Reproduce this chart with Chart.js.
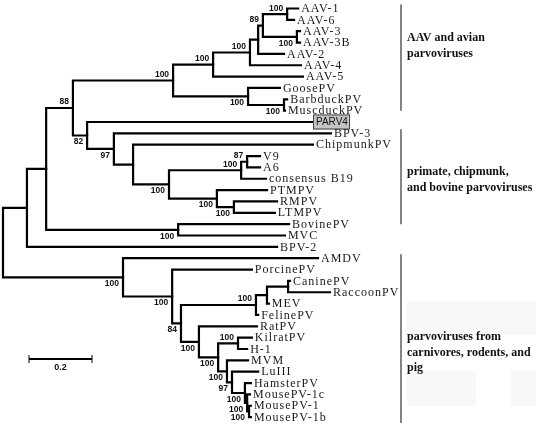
<!DOCTYPE html>
<html lang="en">
<head>
<meta charset="UTF-8">
<title>Parvovirus tree</title>
<style>
  html, body { margin: 0; padding: 0; background: #fff; }
  #wrap { width: 536px; height: 423px; position: relative; }
</style>
</head>
<body>
<div id="wrap"><canvas id="tree"></canvas></div>
<script src="https://cdn.jsdelivr.net/npm/chart.js@4/dist/chart.umd.min.js"></script>
<script>
// tips, top to bottom
var leafNames = ['AAV-1', 'AAV-6', 'AAV-3', 'AAV-3B', 'AAV-2', 'AAV-4', 'AAV-5',
  'GoosePV', 'BarbduckPV', 'MuscduckPV', 'PARV4', 'BPV-3', 'ChipmunkPV',
  'V9', 'A6', 'consensus B19', 'PTMPV', 'RMPV', 'LTMPV', 'BovinePV', 'MVC', 'BPV-2',
  'AMDV', 'PorcinePV', 'CaninePV', 'RaccoonPV', 'MEV', 'FelinePV', 'RatPV',
  'KilratPV', 'H-1', 'MVM', 'LuIII', 'HamsterPV', 'MousePV-1c', 'MousePV-1', 'MousePV-1b'];
// distance of each tip from the root
var leafDepth = [0.937, 0.924, 0.943, 0.943, 0.892, 0.946, 0.952,
  0.879, 0.902, 0.895, 0.981, 1.041, 0.984,
  0.816, 0.816, 0.835, 0.838, 0.870, 0.863, 0.908, 0.895, 0.870,
  1.000, 0.790, 0.911, 1.038, 0.844, 0.810, 0.806,
  0.790, 0.775, 0.778, 0.810, 0.787, 0.784, 0.787, 0.787];

// internal nodes (upper child first)
var nodeIds = ['root', 'A', 'B', 'C', 'D', 'O', 'U2', 'T', 'R', 'Q', 'S', 'V2', 'AV2',
  'E', 'F', 'G', 'H', 'I', 'J', 'K', 'L', 'M',
  'AB', 'AA', 'Y', 'X', 'W', 'U', 'Z', 'AC', 'AD', 'AE', 'AF', 'AG', 'AH', 'AI'];
var nodeKids = [['A', 'AB'], ['B', 'BPV-2'], ['C', 'M'], ['D', 'E'], ['O', 'V2'], ['U2', 'AAV-5'],
  ['T', 'AAV-4'], ['R', 'AAV-2'], ['Q', 'S'], ['AAV-1', 'AAV-6'], ['AAV-3', 'AAV-3B'],
  ['GoosePV', 'AV2'], ['BarbduckPV', 'MuscduckPV'],
  ['PARV4', 'F'], ['BPV-3', 'G'], ['ChipmunkPV', 'H'], ['I', 'K'], ['J', 'consensus B19'],
  ['V9', 'A6'], ['PTMPV', 'L'], ['RMPV', 'LTMPV'], ['BovinePV', 'MVC'],
  ['AMDV', 'AA'], ['PorcinePV', 'Y'], ['X', 'Z'], ['W', 'FelinePV'], ['U', 'MEV'],
  ['CaninePV', 'RaccoonPV'], ['RatPV', 'AC'], ['AD', 'AE'], ['KilratPV', 'H-1'],
  ['MVM', 'AF'], ['LuIII', 'AG'], ['HamsterPV', 'AH'], ['MousePV-1c', 'AI'],
  ['MousePV-1', 'MousePV-1b']];
var nodeDepth = [0, 0.076, 0.137, 0.222, 0.540, 0.667, 0.784, 0.810, 0.825, 0.902, 0.933, 0.778, 0.892,
  0.267, 0.352, 0.413, 0.527, 0.756, 0.775, 0.679, 0.733, 0.556,
  0.381, 0.537, 0.565, 0.803, 0.838, 0.905, 0.622, 0.683, 0.746, 0.711, 0.727, 0.768, 0.775, 0.781];
// bootstrap support, null where none is printed
var nodeSupport = [null, null, null, 88, 100, 100, 100, null, 89, 100, 100, 100, 100,
  82, 97, null, 100, 100, 87, 100, 100, 100,
  100, 100, 84, 100, null, null, 100, 100, 100, 100, 97, 100, 100, 100];

var scaleBarLength = 0.2;

var cladeNames = [['AAV and avian', 'parvoviruses'],
  ['primate, chipmunk,', 'and bovine parvoviruses'],
  ['parvoviruses from', 'carnivores, rodents, and', 'pig']];
var cladeFirst = ['AAV-1', 'BPV-3', 'AMDV'];
var cladeLast = ['MuscduckPV', 'BovinePV', 'MousePV-1b'];

// ---- layout from the tree ----
var depth = {}, ypos = {}, parentOf = {};
leafNames.forEach(function (n, i) { depth[n] = leafDepth[i]; ypos[n] = i; });
nodeIds.forEach(function (n, i) {
  depth[n] = nodeDepth[i];
  parentOf[nodeKids[i][0]] = { node: n, upper: true };
  parentOf[nodeKids[i][1]] = { node: n, upper: false };
});
function yOf(n) {
  if (ypos[n] !== undefined) return ypos[n];
  var k = nodeKids[nodeIds.indexOf(n)];
  ypos[n] = (yOf(k[0]) + yOf(k[1])) / 2;
  return ypos[n];
}
nodeIds.forEach(yOf);

// one bracket per internal node
var datasets = nodeIds.map(function (n, i) {
  var a = nodeKids[i][0], b = nodeKids[i][1];
  return {
    data: [
      { x: depth[a], y: ypos[a] }, { x: depth[n], y: ypos[a] },
      { x: depth[n], y: ypos[b] }, { x: depth[b], y: ypos[b] }
    ],
    showLine: true,
    borderColor: '#000',
    borderWidth: 2.2,
    borderCapStyle: 'square',
    borderJoinStyle: 'miter',
    pointRadius: 0,
    tension: 0
  };
});

var pxPerUnit = 315, rowH = 11.35;
var W = 536, H = 423;

var treeText = {
  id: 'treeText',
  beforeDraw: function (chart) {
    var ctx = chart.ctx;
    ctx.save();
    ctx.fillStyle = '#f8f8f8';
    ctx.fillRect(407, 302, 129, 33);
    ctx.fillRect(407, 371, 69, 35);
    ctx.fillRect(511, 371, 25, 35);
    ctx.restore();
  },
  afterDatasetsDraw: function (chart) {
    var ctx = chart.ctx, xs = chart.scales.x, ys = chart.scales.y;
    ctx.save();

    // tip names
    ctx.textBaseline = 'middle';
    leafNames.forEach(function (n, i) {
      var x = xs.getPixelForValue(leafDepth[i]), y = ys.getPixelForValue(i);
      if (n === 'PARV4') {
        ctx.fillStyle = '#c4c4c4';
        ctx.fillRect(x + 1, y - 7.5, 37, 15);
        ctx.strokeStyle = '#444';
        ctx.lineWidth = 1;
        ctx.strokeRect(x + 1.5, y - 7, 36, 14);
        ctx.fillStyle = '#111';
        ctx.font = '10px "Liberation Sans", Arial, sans-serif';
        ctx.letterSpacing = '0px';
        ctx.textAlign = 'left';
        ctx.fillText(n, x + 4, y + 0.5);
        return;
      }
      ctx.fillStyle = '#1a1a1a';
      ctx.font = '12px "Liberation Serif", "Times New Roman", serif';
      ctx.letterSpacing = '1px';
      ctx.textAlign = 'left';
      ctx.fillText(n, x + 3, y + 0.5);
    });

    // bootstrap values
    ctx.letterSpacing = '0px';
    ctx.font = 'bold 8.5px "Liberation Sans", Arial, sans-serif';
    ctx.fillStyle = '#111';
    ctx.textAlign = 'right';
    nodeIds.forEach(function (n, i) {
      if (nodeSupport[i] === null) return;
      var x = xs.getPixelForValue(nodeDepth[i]), y = ys.getPixelForValue(ypos[n]);
      var up = parentOf[n] ? parentOf[n].upper : false;
      ctx.fillText(String(nodeSupport[i]), x - 4, up ? y - 6 : y + 6.5);
    });

    // scale bar
    var sx = 29, sy = 359;
    var len = xs.getPixelForValue(scaleBarLength) - xs.getPixelForValue(0);
    ctx.strokeStyle = '#000';
    ctx.lineWidth = 2;
    ctx.beginPath();
    ctx.moveTo(sx, sy); ctx.lineTo(sx + len, sy);
    ctx.stroke();
    ctx.lineWidth = 1;
    ctx.beginPath();
    ctx.moveTo(sx, sy - 4); ctx.lineTo(sx, sy + 4);
    ctx.moveTo(sx + len, sy - 4); ctx.lineTo(sx + len, sy + 4);
    ctx.stroke();
    ctx.font = 'bold 9px "Liberation Sans", Arial, sans-serif';
    ctx.textAlign = 'center';
    ctx.fillText(String(scaleBarLength), sx + len / 2, sy + 9);

    // clade brackets
    var textTop = [38, 172, 337];
    cladeNames.forEach(function (lines, i) {
      var y0 = ys.getPixelForValue(leafNames.indexOf(cladeFirst[i])) - 4;
      var y1 = i === cladeNames.length - 1 ? chart.height
        : ys.getPixelForValue(leafNames.indexOf(cladeLast[i]));
      ctx.strokeStyle = '#333';
      ctx.lineWidth = 1.2;
      ctx.beginPath();
      ctx.moveTo(401, y0); ctx.lineTo(401, y1);
      ctx.stroke();
      ctx.fillStyle = '#111';
      ctx.font = 'bold 12px "Liberation Serif", "Times New Roman", serif';
      ctx.textAlign = 'left';
      lines.forEach(function (t, j) {
        ctx.fillText(t, 407, textTop[i] + j * 15.5);
      });
    });
    ctx.restore();
  }
};

new Chart(document.getElementById('tree'), {
  type: 'scatter',
  data: { datasets: datasets },
  options: {
    responsive: true,
    maintainAspectRatio: false,
    animation: false,
    events: [],
    layout: { padding: 0 },
    plugins: { legend: { display: false }, tooltip: { enabled: false } },
    scales: {
      x: { type: 'linear', display: false, min: -3 / pxPerUnit, max: (W - 3) / pxPerUnit },
      y: { type: 'linear', display: false, reverse: true, min: -8.5 / rowH, max: (H - 8.5) / rowH }
    }
  },
  plugins: [treeText]
});
</script>
</body>
</html>
